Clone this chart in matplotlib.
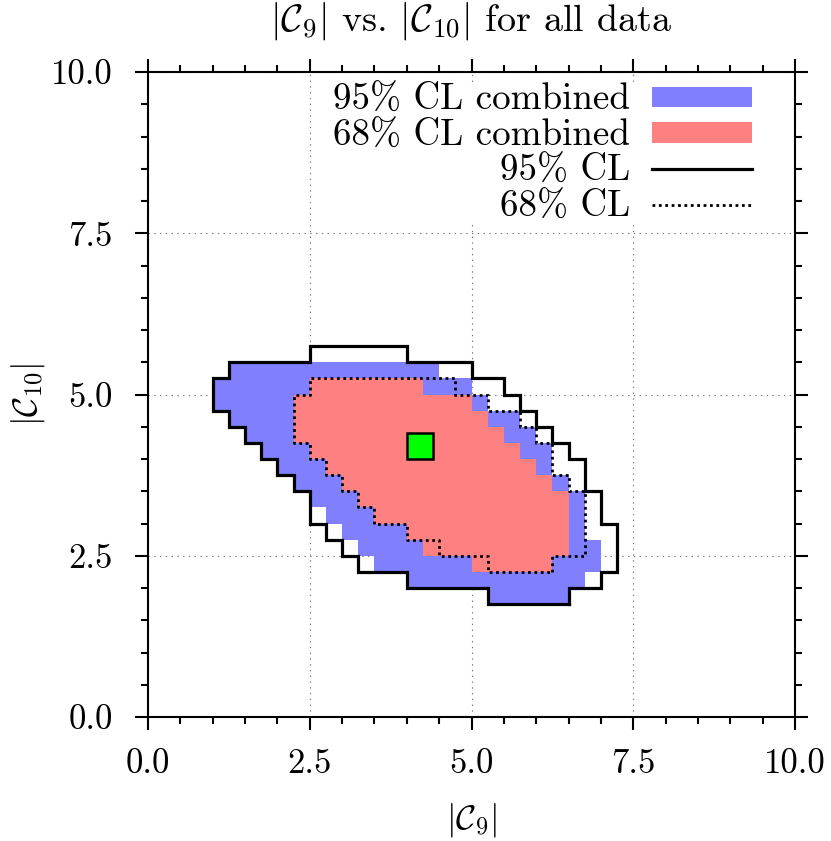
import numpy as np
import matplotlib
matplotlib.use("Agg")
import matplotlib.pyplot as plt
from matplotlib.patches import Patch
from matplotlib.lines import Line2D
from matplotlib.ticker import MultipleLocator, FormatStrFormatter

plt.rcParams['font.family'] = 'serif'
plt.rcParams['font.serif'] = ['cmr10']
plt.rcParams['mathtext.fontset'] = 'cm'
plt.rcParams['axes.unicode_minus'] = False
plt.rcParams['axes.formatter.use_mathtext'] = True

# ---------------- data (grid cells of 0.25 x 0.25) ----------------
cell = 0.25
# lower edge of each cell row in |C10|
row_y = [1.75, 2.0, 2.25, 2.5, 2.75, 3.0, 3.25, 3.5, 3.75, 4.0, 4.25, 4.5, 4.75, 5.0, 5.25, 5.5]
nan = np.nan
# 95% CL combined (filled, blue): per-row |C9| range
blue_lo = [5.25, 4.0, 3.5, 3.25, 3.0, 2.75, 2.5, 2.25, 2.0, 1.75, 1.5, 1.25, 1.0, 1.0, 1.25, nan]
blue_hi = [6.5, 6.75, 7.0, 7.0, 6.75, 6.75, 6.75, 6.5, 6.25, 6.25, 6.0, 5.75, 5.25, 5.0, 4.5, nan]
# 68% CL combined (filled, red)
red_lo = [nan, nan, 5.0, 4.25, 4.0, 3.5, 3.25, 3.0, 2.75, 2.5, 2.25, 2.25, 2.25, 2.5, nan, nan]
red_hi = [nan, nan, 6.25, 6.5, 6.5, 6.5, 6.5, 6.25, 6.0, 5.75, 5.5, 5.25, 5.0, 4.25, nan, nan]
# 95% CL (solid contour)
cl95_lo = [5.25, 4.0, 3.25, 3.0, 2.75, 2.5, 2.5, 2.25, 2.0, 1.75, 1.5, 1.25, 1.0, 1.0, 1.25, 2.5]
cl95_hi = [6.5, 7.0, 7.25, 7.25, 7.25, 7.0, 7.0, 6.75, 6.75, 6.5, 6.25, 6.0, 5.75, 5.5, 5.0, 4.0]
# 68% CL (dotted contour)
cl68_lo = [nan, nan, 5.25, 4.5, 4.0, 3.5, 3.25, 3.0, 2.75, 2.5, 2.25, 2.25, 2.25, 2.5, nan, nan]
cl68_hi = [nan, nan, 6.25, 6.75, 6.75, 6.75, 6.75, 6.5, 6.25, 6.25, 6.0, 5.75, 5.25, 4.75, nan, nan]
# best fit point
best_c9 = [4.2]
best_c10 = [4.2]

ticks = [0.0, 2.5, 5.0, 7.5, 10.0]
labels = ["95% CL combined", "68% CL combined", "95% CL", "68% CL"]
title = r"$|\mathcal{C}_9|$ vs. $|\mathcal{C}_{10}|$ for all data"

col_blue = '#8080ff'
col_red = '#ff8080'


def staircase(lo, hi):
    """Closed step outline of a region given as per-row intervals."""
    ys = np.array(row_y)
    lo = np.array(lo, dtype=float)
    hi = np.array(hi, dtype=float)
    ok = ~np.isnan(lo)
    ys, lo, hi = ys[ok], lo[ok], hi[ok]
    px, py = [], []
    for y, h in zip(ys, hi):
        px += [h, h]
        py += [y, y + cell]
    for y, l in zip(ys[::-1], lo[::-1]):
        px += [l, l]
        py += [y + cell, y]
    px.append(px[0])
    py.append(py[0])
    return np.array(px), np.array(py)


fig = plt.figure(figsize=(8.31, 8.41), dpi=100)
ax = fig.add_axes([148 / 831, 124 / 841, 647 / 831, 645 / 841])

FS = 25
FS_TXT = 26.7
FS_TITLE = 27.5

bx, by = staircase(blue_lo, blue_hi)
ax.fill(bx, by, color=col_blue, lw=0, zorder=2)
rx, ry = staircase(red_lo, red_hi)
ax.fill(rx, ry, color=col_red, lw=0, zorder=3)
sx, sy = staircase(cl95_lo, cl95_hi)
ax.plot(sx, sy, color='black', lw=2.3, solid_joinstyle='miter', zorder=4)
dx, dy = staircase(cl68_lo, cl68_hi)
ax.plot(dx, dy, color='black', lw=2.0, ls=(0, (1.0, 1.3)), zorder=4)
ax.plot(best_c9, best_c10, marker='s', ms=18.5, mfc='#00ff00', mec='black', mew=1.8,
        ls='none', zorder=5)

ax.set_xlim(0, 10)
ax.set_ylim(0, 10)
ax.set_xticks(ticks)
ax.set_yticks(ticks)
ax.xaxis.set_minor_locator(MultipleLocator(0.5))
ax.yaxis.set_minor_locator(MultipleLocator(0.5))
ax.xaxis.set_major_formatter(FormatStrFormatter('%.1f'))
ax.yaxis.set_major_formatter(FormatStrFormatter('%.1f'))
ax.tick_params(which='both', direction='out', top=True, right=True, width=1.5)
ax.tick_params(which='major', length=9.5, labelsize=FS)
ax.tick_params(axis='x', which='major', pad=13)
ax.tick_params(axis='y', which='major', pad=16)
ax.tick_params(which='minor', length=4.8)
for s in ax.spines.values():
    s.set_linewidth(1.5)
ax.grid(True, which='major', color='0.45', lw=0.8, ls=(0, (1.2, 4)), zorder=1)
ax.set_axisbelow(True)

ax.set_xlabel(r"$|\mathcal{C}_9|$", fontsize=FS, va='top')
ax.xaxis.set_label_coords(0.5, -0.131)
ax.set_ylabel(r"$|\mathcal{C}_{10}|$", fontsize=FS)
ax.yaxis.set_label_coords(-0.1566, 0.5)
ax.set_title(title, fontsize=FS_TITLE, y=1.0636, pad=0)

handles = [Patch(facecolor=col_blue, edgecolor='none'),
           Patch(facecolor=col_red, edgecolor='none'),
           Line2D([], [], color='black', lw=2.3),
           Line2D([], [], color='black', lw=2.0, ls=(0, (1.0, 1.3)))]
leg = ax.legend(handles, labels, loc='upper right', bbox_to_anchor=(0.9343, 0.9814),
                fontsize=FS_TXT, markerfirst=False, frameon=True, fancybox=False,
                framealpha=1, edgecolor='none', facecolor='white',
                handlelength=2.7, handleheight=0.48, handletextpad=0.6,
                labelspacing=0.06, borderpad=0.0, borderaxespad=0)
leg.set_zorder(6)

fig.savefig('out.png', dpi=100)
